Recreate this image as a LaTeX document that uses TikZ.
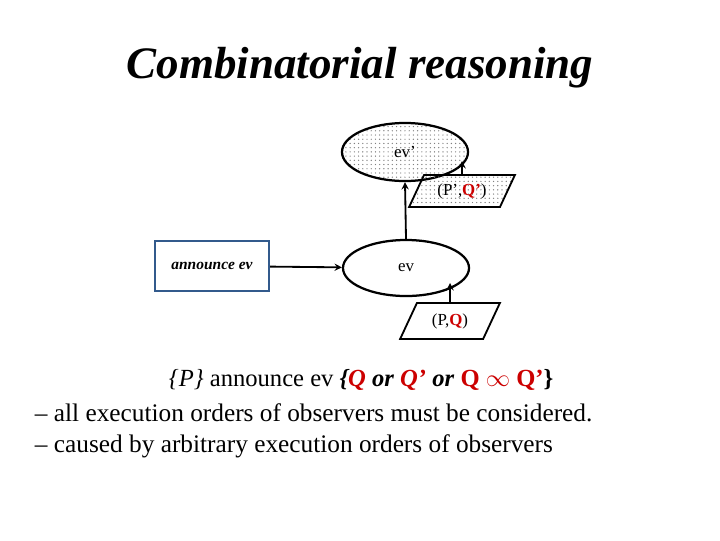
\documentclass[tikz,border=0pt]{standalone}
\usepackage{fontspec}
\setmainfont{Liberation Serif}
\usetikzlibrary{shapes.geometric, arrows, patterns}
\definecolor{qred}{RGB}{204,0,0}
\definecolor{boxblue}{RGB}{50,90,140}
\tikzstyle{event} = [ellipse, draw=black, line width=1.6pt, minimum width=3.15cm, minimum height=1.45cm, font=\fontsize{12}{14}\selectfont]
\tikzstyle{cond} = [trapezium, trapezium left angle=65, trapezium right angle=115, draw=black, line width=1.3pt, minimum width=2.5cm, minimum height=0.8cm, font=\fontsize{12}{14}\selectfont]
\tikzstyle{dotfill} = [pattern=dots, pattern color=gray]
\tikzstyle{arrow} = [line width=1.3pt, ->, >=stealth]

\begin{document}
\begin{tikzpicture}[x=0.025cm, y=-0.025cm]
    \useasboundingbox (0,0) rectangle (720,540);

    \node (title) at (360,68) {\fontsize{32}{36}\selectfont\bfseries\itshape Combinatorial reasoning};

    \node (evp) [event, dotfill] at (405,152) {ev'};
    \node (condp) [cond, dotfill] at (462,191) {(P',\textcolor{qred}{\textbf{Q'}})};
    \coordinate (evpIn) at (462,161);

    \node (ev) [event, minimum height=1.4cm] at (406,268) {ev};
    \node (cond) [cond] at (450,321) {(P,\textcolor{qred}{\textbf{Q}})};
    \coordinate (evIn) at (450,283);

    \node (announce) [rectangle, draw=boxblue, line width=1.6pt, minimum width=2.85cm, minimum height=1.25cm, font=\fontsize{11}{13}\selectfont\bfseries\itshape] at (212,266) {announce ev};

    \draw[arrow] (announce) -- (ev);
    \draw[arrow] (ev.north) -- (evp.south);
    \draw[arrow] (condp.north) -- (evpIn);
    \draw[arrow] (cond.north) -- (evIn);

    \node (spec) [anchor=west] at (164,380) {\fontsize{17.5}{21}\selectfont\textit{\{P\}} announce ev \textbf{\textit{\{\textcolor{qred}{Q} or \textcolor{qred}{Q'} or} \textcolor{qred}{Q $\infty$ Q'}\}}};
    \node (line1) [anchor=west] at (30,413) {\fontsize{18}{21}\selectfont -- all execution orders of observers must be considered.};
    \node (line2) [anchor=west] at (30,446) {\fontsize{18}{21}\selectfont -- caused by arbitrary execution orders of observers};
\end{tikzpicture}
\end{document}
